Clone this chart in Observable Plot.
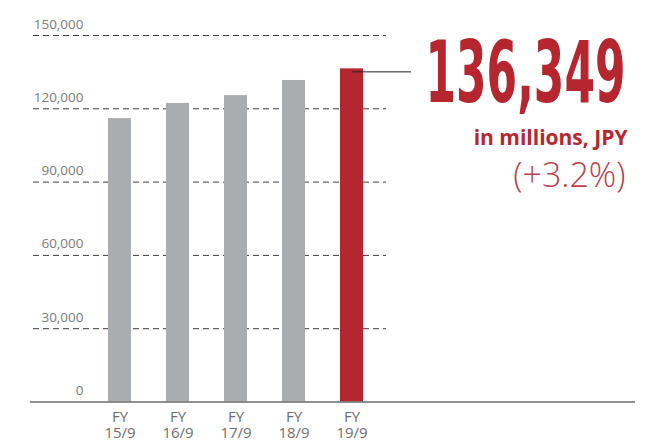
<!DOCTYPE html>
<html><head><meta charset="utf-8">
<script src="https://cdn.jsdelivr.net/npm/d3@7"></script>
<script src="https://cdn.jsdelivr.net/npm/@observablehq/plot@0.6"></script>
<style>
body{margin:0;background:#fff;}
#chart{width:659px;height:444px;overflow:hidden;}
</style></head><body><div id="chart"></div>
<script>
const categories = ["FY\n15/9", "FY\n16/9", "FY\n17/9", "FY\n18/9", "FY\n19/9"];
const values = [116000, 122200, 125400, 131600, 136349];
const yTicks = [0, 30000, 60000, 90000, 120000, 150000];
const unitLabel = "in millions, JPY";
const changeLabel = "(+3.2%)";

const data = categories.map((c, i) => ({cat: c, value: values[i], latest: i === categories.length - 1}));
const latest = data[data.length - 1];
const fmt = d3.format(",");
const RED = "#b5262f";

const chart = Plot.plot({
  width: 659, height: 444,
  marginTop: 35, marginBottom: 42.5, marginLeft: 33, marginRight: 273,
  style: {fontFamily: "'Open Sans', sans-serif", background: "#fff", overflow: "visible"},
  x: {domain: categories, range: [70, 400], padding: 0.61},
  y: {domain: [0, 150000], axis: null},
  marks: [
    Plot.ruleY(yTicks.filter(d => d > 0), {stroke: "#3c3c3c", strokeWidth: 1, strokeDasharray: "6,4"}),
    Plot.barY(data, {x: "cat", y: "value", fill: d => d.latest ? RED : "#aaadaf"}),
    Plot.ruleY([0], {stroke: "#6b6b6b", strokeWidth: 1.5, insetLeft: -3, insetRight: -249}),
    Plot.text(yTicks, {y: d => d, text: d => fmt(d), frameAnchor: "left", textAnchor: "end", lineAnchor: "bottom", dx: 50, dy: -7, fontSize: 13.5, fill: "#7a7a7a"}),
    Plot.axisX({tickSize: 0, tickPadding: 9, fontSize: 15, lineHeight: 1.05, color: "#6d6e70", label: null}),
    Plot.tickY([latest], {x: "cat", y: "value", stroke: "#222", strokeWidth: 1, insetLeft: 12, insetRight: -48, dy: 3}),
    Plot.text([latest], {text: d => fmt(d.value), frameAnchor: "top-right", textAnchor: "end", lineAnchor: "bottom", dx: 239, dy: 66.7, fontSize: 86, fontWeight: "bold", fill: RED, fontFamily: "'Liberation Sans Narrow','DejaVu Sans Condensed','Roboto',sans-serif"}),
    Plot.text([unitLabel], {text: d => d, frameAnchor: "top-right", textAnchor: "end", lineAnchor: "bottom", dx: 241, dy: 109, fontSize: 21, fontWeight: "bold", fill: RED}),
    Plot.text([changeLabel], {text: d => d, frameAnchor: "top-right", textAnchor: "end", lineAnchor: "bottom", dx: 239, dy: 151.7, fontSize: 34, fontWeight: 300, fill: "#c0404a"})
  ]
});
document.getElementById("chart").appendChild(chart);
d3.select(chart).selectAll("text").filter(function () { return this.textContent === fmt(latest.value); })
  .attr("textLength", 200).attr("lengthAdjust", "spacingAndGlyphs");
</script>
</body></html>
